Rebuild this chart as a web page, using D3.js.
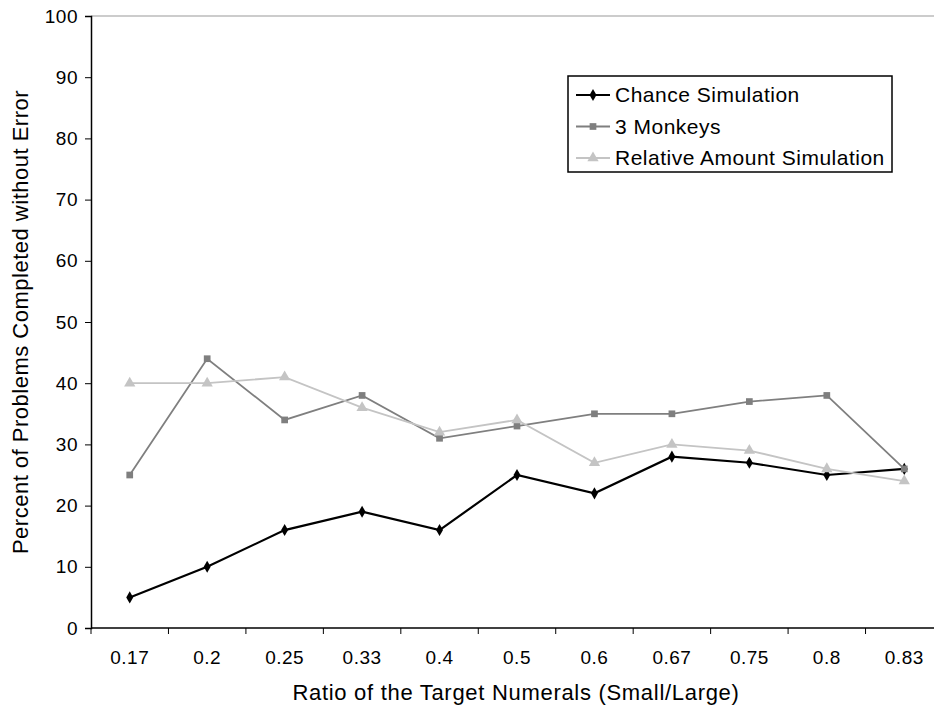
<!DOCTYPE html>
<html><head><meta charset="utf-8">
<script src="https://cdn.jsdelivr.net/npm/d3@7"></script>
<style>body{margin:0;background:#fff;} svg{display:block;}</style>
</head><body>
<script>
const categories = ["0.17","0.2","0.25","0.33","0.4","0.5","0.6","0.67","0.75","0.8","0.83"];
const chanceSim = [5,10,16,19,16,25,22,28,27,25,26];
const monkeys = [25,44,34,38,31,33,35,35,37,38,26];
const relativeSim = [40,40,41,36,32,34,27,30,29,26,24];
const yTicks = [0,10,20,30,40,50,60,70,80,90,100];
const seriesNames = ["Chance Simulation","3 Monkeys","Relative Amount Simulation"];

const W=934,H=709;
const svg=d3.select("body").append("svg").attr("width",W).attr("height",H);
const font="Arial, 'Liberation Sans', sans-serif";
const x=d3.scaleBand().domain(categories).range([91,943]);
const y=d3.scaleLinear().domain([0,100]).range([628,16]);

svg.append("line").attr("x1",91).attr("x2",W).attr("y1",y(100)).attr("y2",y(100)).attr("stroke","#999").attr("stroke-width",1.2);

const yAxis=svg.append("g").attr("transform","translate(91,0)")
 .call(d3.axisLeft(y).tickValues(yTicks).tickSize(6).tickPadding(7));
const xAxis=svg.append("g").attr("transform","translate(0,628)")
 .call(d3.axisBottom(x).tickSize(0).tickPadding(23));
xAxis.selectAll(".bnd").data(categories).enter().append("line")
 .attr("x1",d=>x(d)).attr("x2",d=>x(d)).attr("y1",0).attr("y2",6).attr("stroke","#000");
[yAxis,xAxis].forEach(g=>{
 g.selectAll("path.domain").attr("stroke","#000").attr("stroke-width",1.5);
 g.selectAll("text").attr("font-family",font).attr("font-size",19).attr("letter-spacing",0.5).attr("fill","#000");
 g.selectAll(".tick line").attr("stroke","#000");
});
xAxis.select("path.domain").attr("d","M91,0H"+W);

const cx=d=>x(d)+x.bandwidth()/2;
const series=[
 {name:seriesNames[0],vals:chanceSim,color:"#000",sym:d3.symbolDiamond,size:42,w:2.2},
 {name:seriesNames[1],vals:monkeys,color:"#7f7f7f",sym:d3.symbolSquare,size:45,w:1.8},
 {name:seriesNames[2],vals:relativeSim,color:"#c4c4c4",sym:d3.symbolTriangle,size:55,w:1.8}
];
const line=d3.line().x(d=>cx(d.c)).y(d=>y(d.v));
series.forEach(s=>{
 const pts=categories.map((c,i)=>({c,v:s.vals[i]}));
 svg.append("path").datum(pts).attr("d",line).attr("fill","none").attr("stroke",s.color).attr("stroke-width",s.w);
 svg.selectAll(null).data(pts).enter().append("path")
  .attr("d",d3.symbol().type(s.sym).size(s.size))
  .attr("transform",d=>`translate(${cx(d.c)},${y(d.v)})`).attr("fill",s.color);
});

const lg=svg.append("g");
lg.append("rect").attr("x",568).attr("y",76).attr("width",324).attr("height",96).attr("fill","#fff").attr("stroke","#000").attr("stroke-width",1.5);
series.forEach((s,i)=>{
 const yy=95+i*31.5;
 lg.append("line").attr("x1",576).attr("x2",610).attr("y1",yy).attr("y2",yy).attr("stroke",s.color).attr("stroke-width",s.w);
 lg.append("path").attr("d",d3.symbol().type(s.sym).size(s.size)).attr("transform",`translate(593,${yy})`).attr("fill",s.color);
 lg.append("text").attr("x",615).attr("y",yy+7).text(s.name).attr("font-family",font).attr("font-size",21).attr("letter-spacing",0.5).attr("fill","#000");
});

svg.append("text").attr("x",516).attr("y",700).attr("text-anchor","middle").attr("font-family",font).attr("font-size",22).attr("letter-spacing",0.7).text("Ratio of the Target Numerals (Small/Large)");
svg.append("text").attr("transform","translate(28,322) rotate(-90)").attr("text-anchor","middle").attr("font-family",font).attr("font-size",22).attr("letter-spacing",0.5).text("Percent of Problems Completed without Error");
</script>
</body></html>
